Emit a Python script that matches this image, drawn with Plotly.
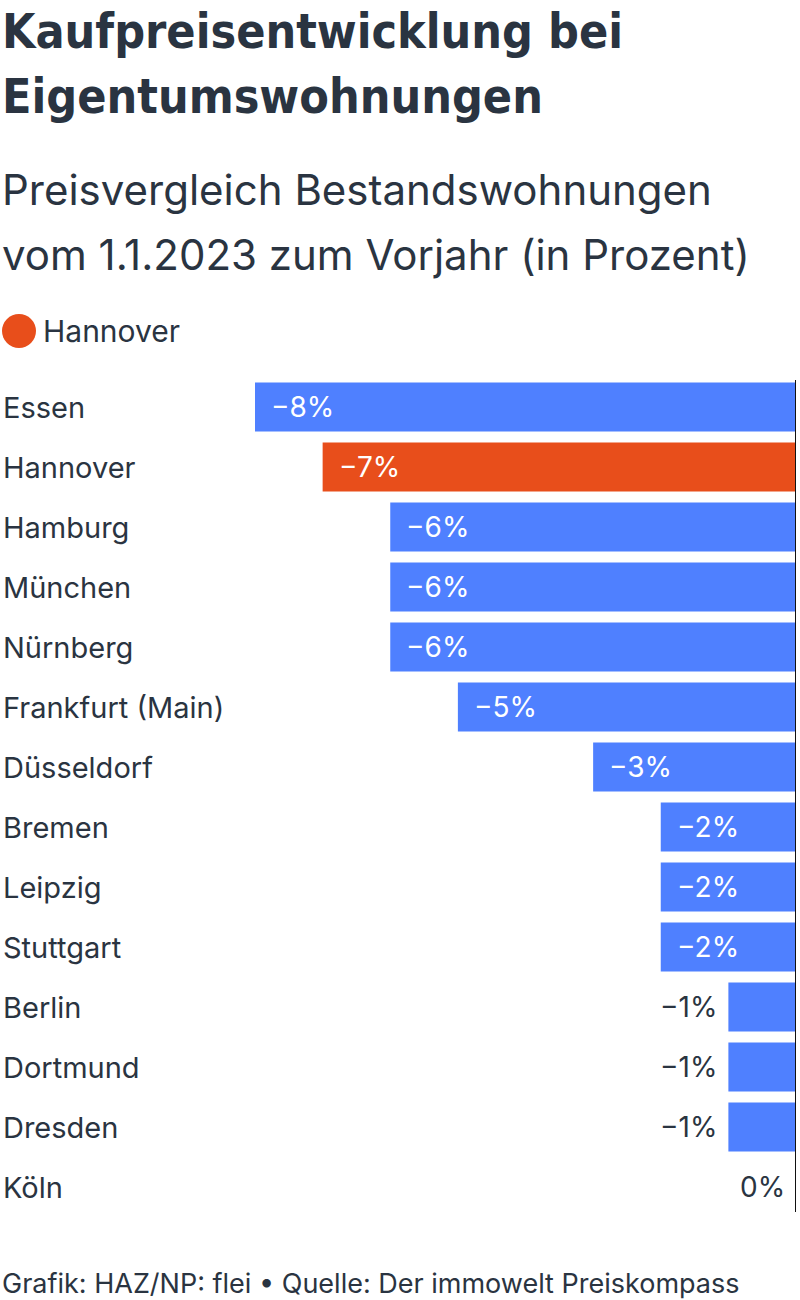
import plotly.graph_objects as go

cities = ["Essen", "Hannover", "Hamburg", "München", "Nürnberg", "Frankfurt (Main)",
          "Düsseldorf", "Bremen", "Leipzig", "Stuttgart", "Berlin", "Dortmund", "Dresden", "Köln"]
values = [-8, -7, -6, -6, -6, -5, -3, -2, -2, -2, -1, -1, -1, 0]
highlight = "Hannover"

title_lines = ["Kaufpreisentwicklung bei", "Eigentumswohnungen"]
subtitle_lines = ["Preisvergleich Bestandswohnungen", "vom 1.1.2023 zum Vorjahr (in Prozent)"]
legend_label = "Hannover"
footer = "Grafik: HAZ/NP: flei • Quelle: Der immowelt Preiskompass"

BLUE = "#4f80ff"
ORANGE = "#e84e1b"
DARK = "#2a3441"
W, H = 800, 1300
ML, MR, MT, MB = 255, 4, 377, 83
PW, PH = W - ML - MR, H - MT - MB
FONT = "Inter, 'Noto Sans', sans-serif"
TFONT = "'Liberation Sans Narrow', 'DejaVu Sans Condensed', sans-serif"


def px(xp):
    return (xp - ML) / PW


def py(yp):
    return (H - MB - yp) / PH


colors = [ORANGE if c == highlight else BLUE for c in cities]
labels = [("−" if v < 0 else "") + f"{abs(v)}%" for v in values]

fig = go.Figure(go.Bar(
    x=values, y=cities, orientation="h",
    marker=dict(color=colors, line=dict(width=0)),
    cliponaxis=False, hoverinfo="skip",
))

ann = []
for c, v, lab in zip(cities, values, labels):
    ann.append(dict(text=c, x=px(1), y=c, xref="paper", yref="y", xanchor="left",
                    yanchor="middle", showarrow=False,
                    font=dict(family=FONT, size=29, color=DARK)))
    inside = v <= -2
    ann.append(dict(text=lab, x=v, y=c, xref="x", yref="y",
                    xanchor="left" if inside else "right", yanchor="middle",
                    xshift=14 if inside else -9, showarrow=False,
                    font=dict(family=FONT, size=28, color="white" if inside else DARK)))
ann.append(dict(text=f"<b>{title_lines[0]}</b>", x=px(0), y=py(31), xref="paper", yref="paper",
                xanchor="left", yanchor="middle", showarrow=False,
                font=dict(family=TFONT, size=48, color=DARK)))
ann.append(dict(text=f"<b>{title_lines[1]}</b>", x=px(0), y=py(96), xref="paper", yref="paper",
                xanchor="left", yanchor="middle", showarrow=False,
                font=dict(family=TFONT, size=48, color=DARK)))
ann.append(dict(text=subtitle_lines[0], x=px(0), y=py(190), xref="paper", yref="paper",
                xanchor="left", yanchor="middle", showarrow=False,
                font=dict(family=FONT, size=42, color=DARK)))
ann.append(dict(text=subtitle_lines[1], x=px(0), y=py(254), xref="paper", yref="paper",
                xanchor="left", yanchor="middle", showarrow=False,
                font=dict(family=FONT, size=42, color=DARK)))
ann.append(dict(text=legend_label, x=px(41), y=py(331), xref="paper", yref="paper",
                xanchor="left", yanchor="middle", showarrow=False,
                font=dict(family=FONT, size=30, color=DARK)))
ann.append(dict(text=footer, x=px(0), y=py(1283), xref="paper", yref="paper",
                xanchor="left", yanchor="middle", showarrow=False,
                font=dict(family=FONT, size=27, color=DARK)))

shapes = [
    dict(type="circle", xref="paper", yref="paper", x0=px(2), x1=px(36), y0=py(348), y1=py(314),
         fillcolor=ORANGE, line=dict(width=0)),
    dict(type="line", xref="x", yref="paper", x0=0, x1=0, y0=py(1212), y1=py(380),
         line=dict(color="#111111", width=2)),
]

fig.update_layout(
    width=W, height=H, margin=dict(l=ML, r=MR, t=MT, b=MB),
    paper_bgcolor="white", plot_bgcolor="white", showlegend=False,
    bargap=0.18, annotations=ann, shapes=shapes,
    xaxis=dict(range=[-8, 0], visible=False, fixedrange=True),
    yaxis=dict(autorange="reversed", visible=False, categoryorder="array",
               categoryarray=cities, fixedrange=True),
    font=dict(family=FONT, color=DARK),
)

fig.write_html("out.html", config={"displayModeBar": False})
